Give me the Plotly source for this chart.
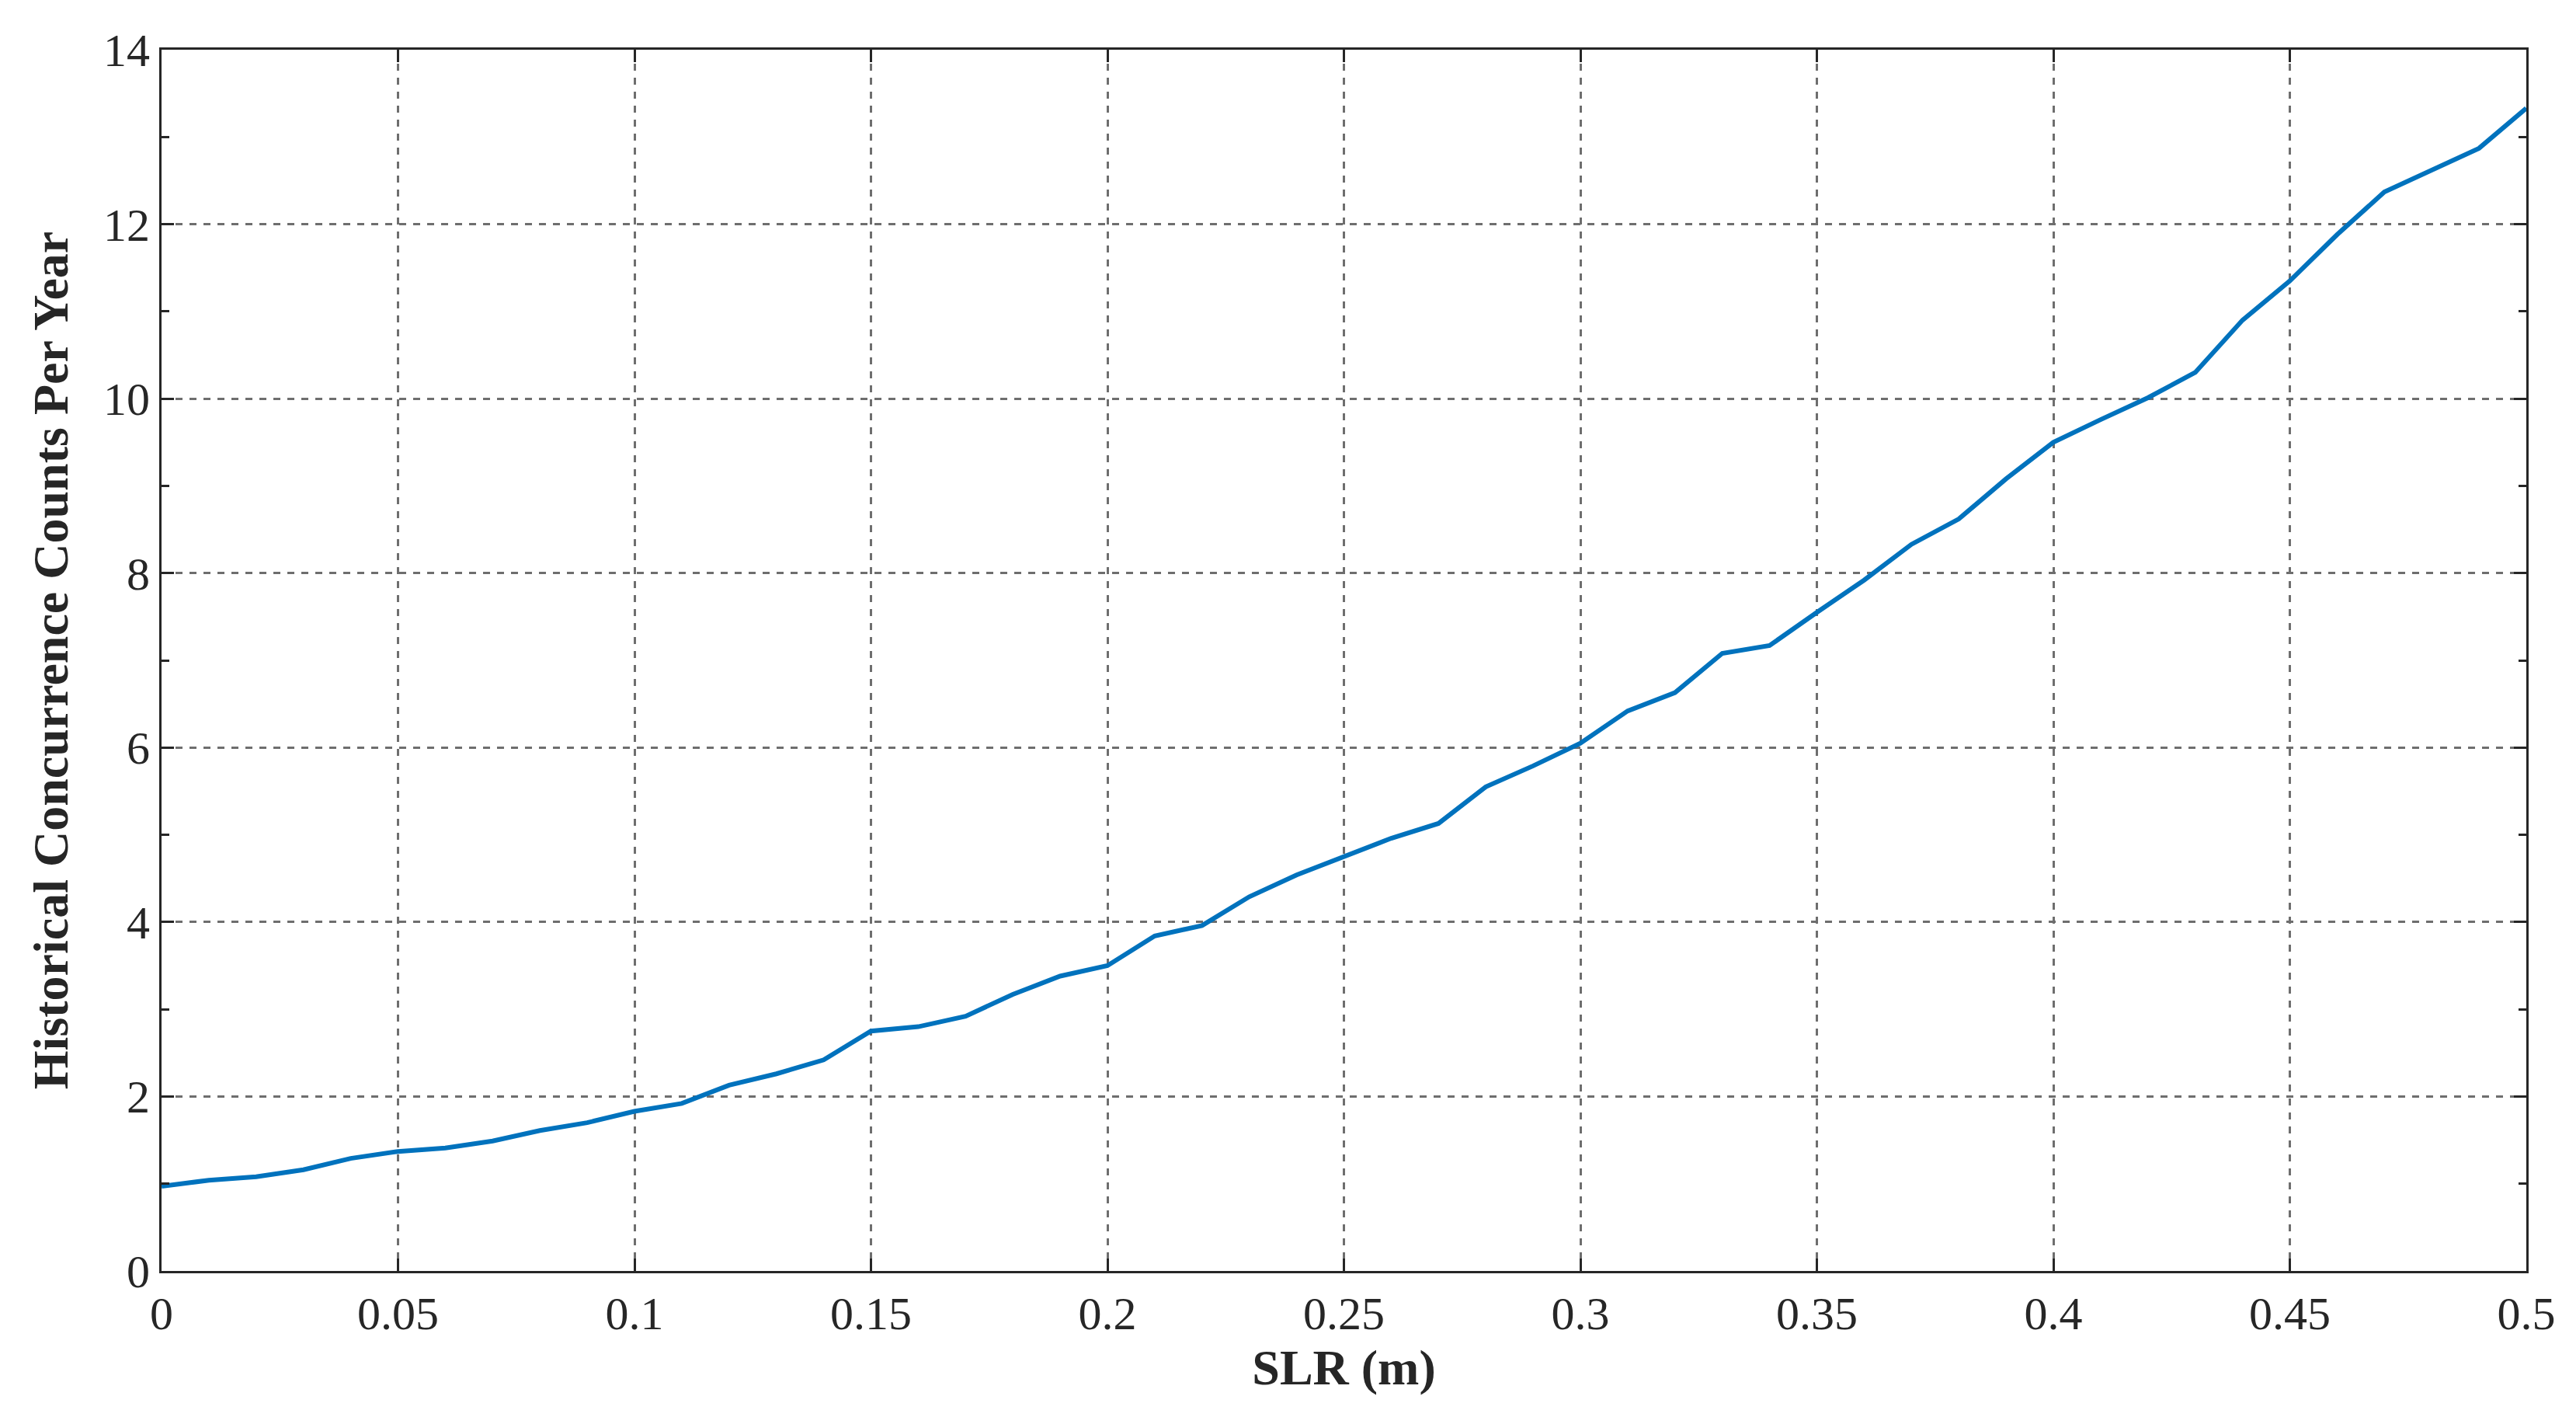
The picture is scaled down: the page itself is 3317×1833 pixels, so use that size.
import plotly.graph_objects as go

slr = [round(i*0.01, 2) for i in range(51)]
counts = [0.97,1.04,1.08,1.16,1.29,1.37,1.41,1.49,1.61,1.70,1.83,1.92,2.13,2.26,2.42,2.75,2.80,2.92,3.17,3.38,
          3.50,3.84,3.96,4.29,4.54,4.75,4.96,5.13,5.55,5.79,6.05,6.42,6.63,7.08,7.17,7.55,7.92,8.33,8.62,9.08,
          9.50,9.76,10.01,10.30,10.90,11.35,11.88,12.37,12.62,12.87,13.33]
xticks = [0,0.05,0.1,0.15,0.2,0.25,0.3,0.35,0.4,0.45,0.5]
xlabels = ["0","0.05","0.1","0.15","0.2","0.25","0.3","0.35","0.4","0.45","0.5"]

fig = go.Figure(go.Scatter(x=slr, y=counts, mode="lines", line=dict(color="#0072BD", width=6)))
font = dict(family="Liberation Serif", size=60, color="#262626")
tfont = dict(family="Liberation Serif", size=64, color="#262626")
common = dict(showline=True, linecolor="#262626", linewidth=3, mirror="ticks", ticks="inside",
              ticklen=16, tickwidth=3, tickcolor="#262626", showgrid=True, gridcolor="#6e6e6e",
              griddash="dash", gridwidth=3, zeroline=False, tickfont=font)
fig.update_xaxes(range=[0,0.5], tickvals=xticks, ticktext=xlabels, **common,
                 title=dict(text="<b>SLR (m)</b>", font=tfont, standoff=15))
fig.update_yaxes(range=[0,14], dtick=2, **common,
                 minor=dict(dtick=1, ticks="inside", ticklen=10, tickwidth=3, tickcolor="#262626", showgrid=False),
                 title=dict(text="<b>Historical Concurrence Counts Per Year</b>", font=tfont, standoff=25))
fig.update_layout(width=3317, height=1833, margin=dict(l=200, r=72, t=56, b=205),
                  plot_bgcolor="white", paper_bgcolor="white", showlegend=False)
fig.write_html("out.html")
